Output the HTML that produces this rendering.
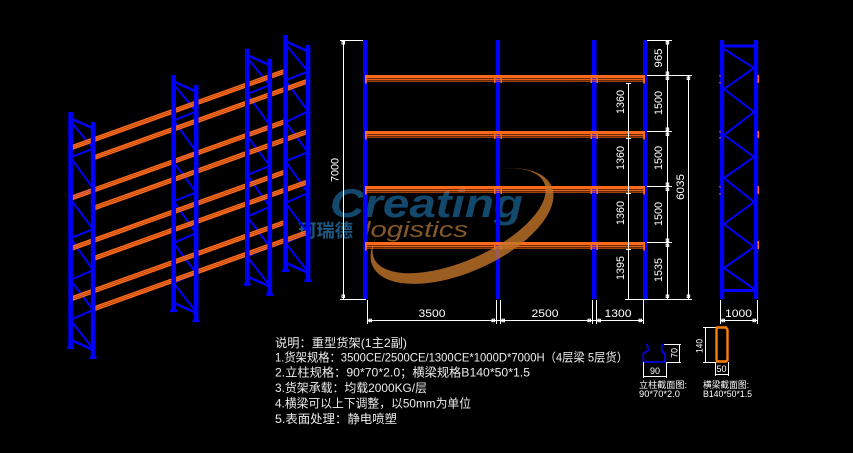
<!DOCTYPE html>
<html><head><meta charset="utf-8">
<style>
html,body{margin:0;padding:0;background:#000;}
svg{display:block;}
text{font-family:"Liberation Sans","Noto Sans CJK SC",sans-serif;}
</style></head>
<body>
<svg width="853" height="453" viewBox="0 0 853 453" xmlns="http://www.w3.org/2000/svg">
<rect width="853" height="453" fill="#000"/>
<defs>
 <g id="br" stroke="#0000ff" stroke-width="2" fill="none">
  <polyline points="70.5,121.2 93,148.4 70.5,157.5 93,188.3 70.5,199.2 93,229.2 70.5,238.2 93,270 70.5,280 93,309.9 70.5,319.9 93,348.9"/>
  <line x1="70.5" y1="118.4" x2="93" y2="128.4" stroke-width="2.5"/>
  <line x1="70.5" y1="339.8" x2="93" y2="349.8" stroke-width="2.5"/>
 </g>
 <g id="up" fill="#0000ff">
  <rect x="68.3" y="112" width="4.6" height="237"/>
  <rect x="90.8" y="122" width="4.6" height="237"/>
  <rect x="67" y="346.5" width="7" height="2.5"/>
  <rect x="89.5" y="356.5" width="7" height="2.5"/>
 </g>
 <g id="bm" stroke="#ff6a1a" stroke-width="1.5">
  <line x1="70.5" y1="0.8" x2="285.5" y2="-76.2"/>
  <line x1="70.5" y1="2.6" x2="285.5" y2="-74.4"/>
  <line x1="70.5" y1="4.4" x2="285.5" y2="-72.6"/>
 </g>
 <g id="fb" fill="#ff6a1a">
  <rect x="365" y="0" width="280" height="3"/>
  <rect x="365" y="3.6" width="280" height="1.3"/>
  <rect x="365" y="5.6" width="280" height="1"/>
  <rect x="365" y="0" width="1.8" height="8.5"/>
  <rect x="643.2" y="0" width="1.8" height="8.5"/>
  <rect x="494" y="0" width="1.5" height="8"/>
  <rect x="500.5" y="0" width="1.5" height="8"/>
  <rect x="590.5" y="0" width="1.5" height="8"/>
  <rect x="596.5" y="0" width="1.5" height="8"/>
 </g>
</defs>

<!-- Logo text (under drawing) -->
<g opacity="0.9">
 <text x="330" y="217" font-size="40" font-weight="bold" font-style="italic" fill="#17527a" textLength="193" lengthAdjust="spacingAndGlyphs">Creating</text>
 <text x="364" y="237" font-size="22" font-style="italic" fill="#93622f" textLength="104" lengthAdjust="spacingAndGlyphs">logistics</text>
 <text x="298" y="237" font-size="18" font-weight="bold" fill="#21618f" textLength="55" lengthAdjust="spacingAndGlyphs">珂瑞德</text>
</g>

<!-- ISO VIEW -->
<use href="#br"/>
<use href="#br" transform="translate(103.08,-36.92)"/>
<use href="#br" transform="translate(176.71,-63.29)"/>
<use href="#br" transform="translate(215,-77)"/>

<use href="#bm" transform="translate(0,145.4)"/>
<use href="#bm" transform="translate(0,195.8)"/>
<use href="#bm" transform="translate(0,246.1)"/>
<use href="#bm" transform="translate(0,296.5)"/>
<use href="#bm" transform="translate(22.5,155.4)"/>
<use href="#bm" transform="translate(22.5,205.8)"/>
<use href="#bm" transform="translate(22.5,256.1)"/>
<use href="#bm" transform="translate(22.5,306.5)"/>

<use href="#up"/>
<use href="#up" transform="translate(103.08,-36.92)"/>
<use href="#up" transform="translate(176.71,-63.29)"/>
<use href="#up" transform="translate(215,-77)"/>

<!-- FRONT ELEVATION -->
<g fill="#0000ff">
 <rect x="363" y="40" width="4.5" height="259"/>
 <rect x="495.8" y="40" width="4.3" height="259"/>
 <rect x="592" y="40" width="4.5" height="259"/>
 <rect x="643" y="40" width="4.5" height="259"/>
</g>
<use href="#fb" transform="translate(0,75)"/>
<use href="#fb" transform="translate(0,131)"/>
<use href="#fb" transform="translate(0,186)"/>
<use href="#fb" transform="translate(0,242)"/>

<!-- dimensions front -->
<g stroke="#fff" stroke-width="1" fill="none">
 <line x1="343.5" y1="40" x2="343.5" y2="299"/>
 <line x1="340" y1="40.5" x2="363" y2="40.5"/>
 <line x1="340" y1="299.5" x2="366" y2="299.5"/>
 <rect x="342" y="41.5" width="2.5" height="2.5"/>
 <rect x="342" y="295" width="2.5" height="2.5"/>

 <line x1="628.5" y1="83" x2="628.5" y2="299"/>
 <line x1="667.5" y1="40" x2="667.5" y2="299"/>
 <line x1="688.5" y1="75" x2="688.5" y2="299"/>
 <line x1="647" y1="40.5" x2="672" y2="40.5"/>
 <line x1="647" y1="75.5" x2="692" y2="75.5"/>
 <line x1="647" y1="131.5" x2="672" y2="131.5"/>
 <line x1="647" y1="186.5" x2="672" y2="186.5"/>
 <line x1="647" y1="242.5" x2="672" y2="242.5"/>
 <line x1="625" y1="299.5" x2="692" y2="299.5"/>
 <line x1="626" y1="83.5" x2="631" y2="83.5"/>
 <line x1="626" y1="138.5" x2="631" y2="138.5"/>
 <line x1="626" y1="193.5" x2="631" y2="193.5"/>
 <line x1="626" y1="249.5" x2="631" y2="249.5"/>
 <rect x="666.2" y="41.5" width="2.5" height="2.5"/>
 <rect x="666.2" y="72" width="2.5" height="2.5"/>
 <rect x="666.2" y="77" width="2.5" height="2.5"/>
 <rect x="666.2" y="128" width="2.5" height="2.5"/>
 <rect x="666.2" y="133" width="2.5" height="2.5"/>
 <rect x="666.2" y="183" width="2.5" height="2.5"/>
 <rect x="666.2" y="188" width="2.5" height="2.5"/>
 <rect x="666.2" y="239" width="2.5" height="2.5"/>
 <rect x="666.2" y="244" width="2.5" height="2.5"/>
 <rect x="666.2" y="295" width="2.5" height="2.5"/>
 <rect x="687.2" y="77" width="2.5" height="2.5"/>
 <rect x="687.2" y="295" width="2.5" height="2.5"/>

 <line x1="367" y1="320.5" x2="643" y2="320.5"/>
 <line x1="367.5" y1="300" x2="367.5" y2="324"/>
 <line x1="496.5" y1="300" x2="496.5" y2="324"/>
 <line x1="500.5" y1="300" x2="500.5" y2="324"/>
 <line x1="592.5" y1="300" x2="592.5" y2="324"/>
 <line x1="596.5" y1="300" x2="596.5" y2="324"/>
 <line x1="643.5" y1="300" x2="643.5" y2="324"/>
 <rect x="369" y="319.2" width="2.5" height="2.5"/>
 <rect x="492" y="319.2" width="2.5" height="2.5"/>
 <rect x="502" y="319.2" width="2.5" height="2.5"/>
 <rect x="588" y="319.2" width="2.5" height="2.5"/>
 <rect x="598" y="319.2" width="2.5" height="2.5"/>
 <rect x="639" y="319.2" width="2.5" height="2.5"/>

 <line x1="720" y1="320.5" x2="758" y2="320.5"/>
 <line x1="720.5" y1="300" x2="720.5" y2="324"/>
 <line x1="757.5" y1="300" x2="757.5" y2="324"/>
 <rect x="722" y="319.2" width="2.5" height="2.5"/>
 <rect x="753" y="319.2" width="2.5" height="2.5"/>
</g>

<g fill="#fff" font-size="11">
 <text transform="translate(334.5,170) rotate(-90)" x="0" y="4" text-anchor="middle" textLength="24" lengthAdjust="spacingAndGlyphs">7000</text>
 <text transform="translate(658,58) rotate(-90)" x="0" y="4" text-anchor="middle" textLength="19" lengthAdjust="spacingAndGlyphs">965</text>
 <text transform="translate(658,103) rotate(-90)" x="0" y="4" text-anchor="middle" textLength="24" lengthAdjust="spacingAndGlyphs">1500</text>
 <text transform="translate(658,158) rotate(-90)" x="0" y="4" text-anchor="middle" textLength="24" lengthAdjust="spacingAndGlyphs">1500</text>
 <text transform="translate(658,214) rotate(-90)" x="0" y="4" text-anchor="middle" textLength="24" lengthAdjust="spacingAndGlyphs">1500</text>
 <text transform="translate(658,270) rotate(-90)" x="0" y="4" text-anchor="middle" textLength="24" lengthAdjust="spacingAndGlyphs">1535</text>
 <text transform="translate(620,102) rotate(-90)" x="0" y="4" text-anchor="middle" textLength="24" lengthAdjust="spacingAndGlyphs">1360</text>
 <text transform="translate(620,158) rotate(-90)" x="0" y="4" text-anchor="middle" textLength="24" lengthAdjust="spacingAndGlyphs">1360</text>
 <text transform="translate(620,213) rotate(-90)" x="0" y="4" text-anchor="middle" textLength="24" lengthAdjust="spacingAndGlyphs">1360</text>
 <text transform="translate(620,268) rotate(-90)" x="0" y="4" text-anchor="middle" textLength="24" lengthAdjust="spacingAndGlyphs">1395</text>
 <text transform="translate(680,187) rotate(-90)" x="0" y="4" text-anchor="middle" textLength="26" lengthAdjust="spacingAndGlyphs">6035</text>
 <text x="432" y="317" text-anchor="middle" textLength="27" lengthAdjust="spacingAndGlyphs">3500</text>
 <text x="545" y="317" text-anchor="middle" textLength="27" lengthAdjust="spacingAndGlyphs">2500</text>
 <text x="618" y="317" text-anchor="middle" textLength="27" lengthAdjust="spacingAndGlyphs">1300</text>
 <text x="738.5" y="317" text-anchor="middle" textLength="27" lengthAdjust="spacingAndGlyphs">1000</text>
</g>

<!-- SIDE VIEW -->
<g fill="#0000ff">
 <rect x="720" y="40" width="4.2" height="259"/>
 <rect x="754" y="40" width="4.2" height="259"/>
 <rect x="724" y="44.5" width="30" height="3"/>
 <rect x="724" y="289" width="30" height="3"/>
</g>
<polyline points="724,49 754,68 724,89 754,112 724,135 754,157 724,178 754,202 724,224 754,247 724,268 754,289" stroke="#0000ff" stroke-width="2" fill="none"/>
<g fill="#ff6a1a">
 <rect x="757.5" y="75" width="1.5" height="8"/>
 <rect x="757.5" y="131" width="1.5" height="7"/>
 <rect x="757.5" y="186" width="1.5" height="8"/>
 <rect x="757.5" y="241" width="1.5" height="8"/>
 <rect x="719.3" y="75" width="1.3" height="1.5"/>
 <rect x="719.3" y="82" width="1.3" height="1.5"/>
 <rect x="719.3" y="131" width="1.3" height="1.5"/>
 <rect x="719.3" y="137" width="1.3" height="1.5"/>
 <rect x="719.3" y="186" width="1.3" height="1.5"/>
 <rect x="719.3" y="193" width="1.3" height="1.5"/>
</g>

<!-- NOTES -->
<g fill="#ececec" font-size="12">
 <text x="275" y="347" textLength="132" lengthAdjust="spacingAndGlyphs">说明：重型货架(1主2副)</text>
 <text x="275" y="361.5" textLength="353" lengthAdjust="spacingAndGlyphs">1.货架规格：3500CE/2500CE/1300CE*1000D*7000H（4层梁 5层货）</text>
 <text x="275" y="376.5" textLength="255" lengthAdjust="spacingAndGlyphs">2.立柱规格：90*70*2.0；横梁规格B140*50*1.5</text>
 <text x="275" y="392" textLength="152" lengthAdjust="spacingAndGlyphs">3.货架承载：均载2000KG/层</text>
 <text x="275" y="407.5" textLength="196" lengthAdjust="spacingAndGlyphs">4.横梁可以上下调整，以50mm为单位</text>
 <text x="275" y="423" textLength="122" lengthAdjust="spacingAndGlyphs">5.表面处理：静电喷塑</text>
</g>

<!-- SECTIONS -->
<path d="M646,344 L647.5,345.5 L648.3,350.5 L645,352.3 L643.3,353.5 L643.3,362 L665,362 L665,353.5 L662.7,352.5 L661.7,350 L661.7,345 L663.3,344" stroke="#0000ff" stroke-width="1.6" fill="none"/>
<g stroke="#fff" stroke-width="1" fill="none">
 <line x1="643" y1="376.5" x2="666" y2="376.5"/>
 <line x1="643.5" y1="362" x2="643.5" y2="378"/>
 <line x1="666.5" y1="362" x2="666.5" y2="378"/>
 <line x1="679.5" y1="344" x2="679.5" y2="362"/>
 <line x1="664" y1="344.5" x2="681" y2="344.5"/>
 <line x1="666" y1="362.5" x2="681" y2="362.5"/>
 <line x1="705.5" y1="327" x2="705.5" y2="362"/>
 <line x1="703" y1="327.5" x2="716" y2="327.5"/>
 <line x1="703" y1="362.5" x2="716" y2="362.5"/>
 <line x1="715" y1="374.5" x2="728" y2="374.5"/>
 <line x1="715.5" y1="362" x2="715.5" y2="376"/>
 <line x1="728.5" y1="362" x2="728.5" y2="376"/>
</g>
<path d="M717,327.5 L726,327.5 L727.5,330 L727.5,360 L726,361.5 L717,361.5 L716.5,359 L716.5,330 Z" stroke="#ff7f00" stroke-width="2.4" fill="none"/>
<g fill="#fff" font-size="9">
 <text x="655" y="374" text-anchor="middle" textLength="10" lengthAdjust="spacingAndGlyphs">90</text>
 <text x="721.5" y="372" text-anchor="middle" textLength="10" lengthAdjust="spacingAndGlyphs">50</text>
 <text transform="translate(674.5,353) rotate(-90)" x="0" y="3" text-anchor="middle" textLength="10" lengthAdjust="spacingAndGlyphs">70</text>
 <text transform="translate(699.5,346) rotate(-90)" x="0" y="3" text-anchor="middle" textLength="14" lengthAdjust="spacingAndGlyphs">140</text>
 <text x="639" y="388" textLength="48" lengthAdjust="spacingAndGlyphs">立柱截面图:</text>
 <text x="639" y="397" textLength="41" lengthAdjust="spacingAndGlyphs">90*70*2.0</text>
 <text x="703" y="388" textLength="46" lengthAdjust="spacingAndGlyphs">横梁截面图:</text>
 <text x="703" y="397" textLength="49" lengthAdjust="spacingAndGlyphs">B140*50*1.5</text>
</g>

<!-- Logo swoosh (on top, semi-transparent) -->
<g transform="translate(462,226) rotate(-24)">
 <path d="M -82.6 -24.8 A 98 46 0 1 0 43 -41.4 A 93 40 0 1 1 -82.6 -24.8 Z" fill="#c27428" opacity="0.8"/>
</g>
</svg>
</body></html>
